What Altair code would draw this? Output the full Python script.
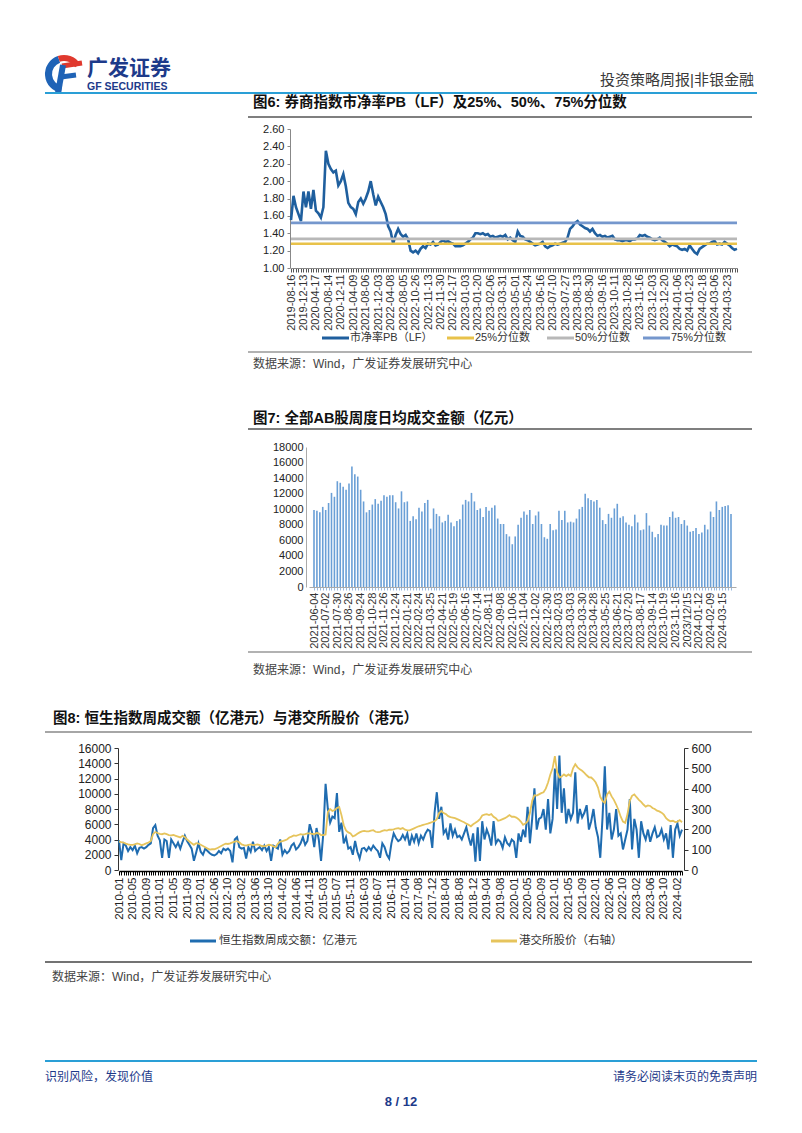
import altair as alt
import pandas as pd

W, H = 786, 1117
LAT = "Liberation Sans"
MIX = "Liberation Sans, Noto Sans CJK SC"

# ---------------- data ----------------
pb_labels = ["2019-08-16", "2019-12-13", "2020-04-17", "2020-08-14", "2020-12-11", "2021-04-09",
             "2021-08-06", "2021-12-03", "2022-04-08", "2022-08-05", "2022-10-26", "2022-11-13",
             "2022-11-30", "2022-12-17", "2023-01-03", "2023-01-20", "2023-02-06", "2023-03-31",
             "2023-05-01", "2023-05-24", "2023-06-16", "2023-07-10", "2023-07-27", "2023-08-13",
             "2023-08-30", "2023-09-16", "2023-10-11", "2023-10-28", "2023-11-16", "2023-12-03",
             "2023-12-20", "2024-01-06", "2024-01-23", "2024-02-18", "2024-03-06", "2024-03-23"]
pb_values = [
    1.55, 1.83, 1.70, 1.62, 1.54, 1.88, 1.70, 1.88, 1.68, 1.90,
    1.66, 1.63, 1.58, 1.70, 2.35, 2.20, 2.14, 2.10, 2.12, 1.95,
    2.00, 2.08, 1.94, 1.75, 1.70, 1.68, 1.62, 1.76, 1.80, 1.74,
    1.80, 1.88, 2.00, 1.85, 1.72, 1.82, 1.76, 1.70, 1.62, 1.48,
    1.42, 1.28, 1.38, 1.45, 1.39, 1.36, 1.38, 1.33, 1.20, 1.18,
    1.20, 1.17, 1.22, 1.25, 1.23, 1.28, 1.27, 1.30, 1.26, 1.27,
    1.30, 1.32, 1.30, 1.31, 1.29, 1.28, 1.25, 1.25, 1.25, 1.26,
    1.28, 1.30, 1.33, 1.35, 1.40, 1.40, 1.39, 1.40, 1.38, 1.39,
    1.36, 1.37, 1.35, 1.36, 1.37, 1.36, 1.38, 1.33, 1.35, 1.32,
    1.30, 1.42, 1.37, 1.36, 1.33, 1.32, 1.30, 1.28, 1.26, 1.27,
    1.28, 1.30, 1.25, 1.23, 1.25, 1.26, 1.28, 1.27, 1.28, 1.29,
    1.30, 1.35, 1.45, 1.48, 1.52, 1.54, 1.50, 1.48, 1.46, 1.45,
    1.42, 1.45, 1.40, 1.37, 1.38, 1.36, 1.37, 1.35, 1.36, 1.37,
    1.33, 1.32, 1.32, 1.31, 1.32, 1.32, 1.31, 1.33, 1.33, 1.34,
    1.38, 1.37, 1.38, 1.36, 1.35, 1.33, 1.32, 1.33, 1.35, 1.32,
    1.30, 1.28, 1.25, 1.27, 1.26, 1.25, 1.22, 1.21, 1.22, 1.20,
    1.26, 1.22, 1.18, 1.16, 1.22, 1.24, 1.26, 1.28, 1.28, 1.30,
    1.31, 1.27, 1.28, 1.27, 1.30, 1.28, 1.26, 1.23, 1.21, 1.22]
pb_p25, pb_p50, pb_p75 = 1.28, 1.335, 1.52

ab_labels = ["2021-06-04", "2021-07-02", "2021-07-30", "2021-08-26", "2021-09-24", "2021-10-28",
             "2021-11-26", "2021-12-24", "2022-01-21", "2022-02-24", "2021-03-25", "2022-04-21",
             "2022-05-19", "2022-06-16", "2022-07-14", "2022-08-11", "2022-09-08", "2022-10-06",
             "2022-11-04", "2022-12-02", "2022-12-30", "2023-02-03", "2023-03-03", "2023-03-30",
             "2023-04-28", "2023-05-25", "2023-06-21", "2023-07-20", "2023-08-17", "2023-09-14",
             "2023-10-19", "2023-11-16", "2023/12/15", "2024-01-12", "2024-02-09", "2024-03-15"]
ab_values = [
    9900, 9800, 9600, 10300, 9900, 10800, 12100, 11600, 13600, 13400,
    12900, 12500, 13300, 15500, 14500, 14200, 12500, 11000, 9600, 9900,
    10600, 11300, 10700, 11100, 11800, 11600, 11800, 11800, 10900, 10100,
    12300, 10900, 11000, 8500, 9100, 8700, 10200, 9700, 10800, 11200,
    7500, 10100, 9400, 9100, 8300, 8500, 9300, 8300, 7800, 8500,
    8700, 10600, 11200, 11000, 12100, 11000, 9900, 10100, 9000, 10300,
    9800, 10200, 10500, 8800, 8100, 8100, 6800, 6500, 5500, 6500,
    8000, 8900, 9700, 9300, 9900, 8100, 9200, 9700, 8100, 6400,
    6200, 8100, 7300, 7400, 9800, 8600, 9800, 8300, 8400, 8300,
    8800, 10000, 10300, 12000, 11400, 11200, 11000, 11200, 10200, 8600,
    8100, 9400, 8900, 10100, 10700, 8900, 9100, 8300, 8000, 7800,
    9300, 8300, 7300, 7400, 9500, 7900, 7100, 6400, 6800, 8000,
    7900, 7900, 9000, 9700, 8900, 9000, 8100, 8600, 7900, 7100,
    7200, 7600, 6800, 7000, 8000, 7400, 9700, 9000, 11000, 9900,
    10300, 10400, 10500, 9400]

hs_labels = ["2010-01", "2010-05", "2010-09", "2011-01", "2011-05", "2011-09", "2012-01", "2012-06",
             "2012-10", "2013-02", "2013-06", "2013-10", "2014-02", "2014-06", "2014-11", "2015-03",
             "2015-07", "2015-11", "2016-03", "2016-07", "2016-11", "2017-04", "2017-08", "2017-12",
             "2018-04", "2018-08", "2018-12", "2019-04", "2019-08", "2020-01", "2020-05", "2020-09",
             "2021-01", "2021-05", "2021-09", "2022-01", "2022-06", "2022-10", "2023-02", "2023-06",
             "2023-10", "2024-02"]
hs_turnover = [
    3900, 1300, 3500, 3200, 2500, 3000, 2600, 3200, 2200, 2900, 3000, 2800,
    3000, 3300, 3500, 5500, 5900, 4500, 3900, 1600, 4000, 3800, 1600, 4000,
    3500, 3000, 3600, 2800, 3700, 4500, 3800, 3300, 2800, 1200, 2300, 3500,
    2400, 2000, 2800, 2500, 2200, 2000, 1900, 2100, 2500, 2200, 2800, 2600,
    2800, 2500, 1000, 4000, 4300, 3000, 2800, 2900, 1500, 3000, 2400, 3700,
    2500, 2800, 3000, 2600, 3200, 2500, 3000, 1200, 3200, 3000, 2800, 4000,
    2000, 2600, 2200, 2500, 3200, 3500, 2700, 3000, 3500, 4300, 3300, 3800,
    6000, 5000, 3000, 5500, 4000, 1200, 4800, 11300, 8000, 6200, 7000, 6800,
    10100, 5000, 6200, 3500, 4300, 2800, 3000, 2000, 3800, 2400, 1500, 2800,
    2900, 2500, 3000, 2600, 3200, 2800, 2500, 1600, 3500, 3000, 2000, 1500,
    3500, 4800, 4200, 3800, 4000, 4600, 4000, 4800, 3200, 4500, 3700, 4800,
    3500, 4500, 4000, 4800, 5300, 5100, 2900, 7500, 10200, 6700, 8300, 4800,
    5300, 4000, 6100, 4500, 5300, 4300, 4500, 4000, 4800, 5600, 4300, 3200,
    4800, 1100, 5600, 1200, 6400, 4000, 5300, 4500, 3200, 6400, 3500, 4000,
    3700, 2900, 4300, 3500, 3200, 4000, 3700, 1600, 4800, 3700, 5300, 4300,
    8300, 3500, 6700, 10700, 5300, 6700, 6900, 8000, 5300, 9300, 4800, 6700,
    13300, 8000, 15000, 7500, 10700, 6100, 8000, 6700, 7500, 12800, 6100, 8000,
    6900, 7500, 8500, 5300, 6400, 8000, 5600, 4300, 1600, 6900, 13600, 5300,
    7500, 4000, 5300, 8000, 4500, 4800, 2700, 4000, 5300, 9300, 2700, 6700,
    5300, 1600, 6400, 4800, 4000, 5300, 3700, 4800, 5600, 4300, 4500, 5300,
    4000, 4800, 2700, 5900, 1600, 5300, 6100, 4500, 5300]
hkex_price = [
    140, 137, 135, 130, 126, 124, 124, 126, 131, 128, 122, 126,
    131, 135, 142, 176, 187, 182, 178, 176, 180, 176, 172, 170,
    172, 168, 164, 160, 168, 162, 150, 140, 132, 124, 132, 130,
    124, 118, 112, 106, 100, 102, 102, 106, 112, 118, 124, 130,
    128, 131, 136, 140, 142, 136, 126, 122, 120, 124, 126, 122,
    124, 126, 122, 118, 116, 120, 124, 122, 116, 112, 130, 140,
    142, 146, 150, 160, 164, 170, 168, 172, 176, 174, 176, 180,
    180, 178, 176, 182, 180, 172, 172, 175, 285, 300, 290, 295,
    305, 310, 270, 220, 195, 185, 180, 165, 170, 178, 185, 190,
    192, 190, 190, 194, 196, 188, 186, 188, 192, 196, 194, 198,
    198, 200, 204, 206, 202, 206, 198, 195, 195, 200, 205, 210,
    215, 218, 222, 225, 228, 232, 236, 240, 250, 280, 290, 280,
    275, 265, 260, 258, 255, 250, 245, 240, 235, 228, 222, 215,
    225, 232, 240, 250, 268, 272, 275, 270, 275, 262, 255, 242,
    245, 250, 255, 262, 270, 262, 262, 258, 250, 238, 222, 228,
    240, 280, 340, 368, 366, 372, 378, 382, 400, 430, 470, 500,
    560, 480, 455, 460, 470, 462, 470, 462, 500, 520, 505, 495,
    488, 478, 466, 456, 455, 445, 430, 405, 360, 340, 330, 372,
    385, 362, 345, 322, 295, 262, 238, 232, 275, 340, 365, 372,
    358, 345, 335, 322, 312, 318, 315, 305, 300, 292, 288, 282,
    272, 255, 245, 240, 242, 236, 238, 245, 235]

# ---------------- helpers ----------------
def px(x):
    return x - 8


def py(y):
    return y - 8


one = pd.DataFrame({"k": [0]})


def txt(s, x, y, size=12, color="#000000", weight="normal", align="left", font=MIX):
    return alt.Chart(one).mark_text(text=s, align=align, baseline="middle", fontSize=size,
                                    color=color, fontWeight=weight, font=font).encode(
        x=alt.value(px(x)), y=alt.value(py(y)))


def seg(x1, y1, x2, y2, color, width):
    return alt.Chart(one).mark_rule(color=color, strokeWidth=width, strokeCap="butt").encode(
        x=alt.value(px(x1)), x2=alt.value(px(x2)), y=alt.value(py(y1)), y2=alt.value(py(y2)))


def hrule(x1, x2, y, color, width):
    return seg(x1, y, x2, y, color, width)


def label_expr(labels, step):
    arr = "[" + ",".join("'%s'" % s for s in labels) + "]"
    return "datum.value %% %d == 0 ? %s[datum.value / %d] : ''" % (step, arr, step)


layers = []

# ---------------- header ----------------
NAVY = "#1d3a8a"
CYAN = "#2a9fd6"
layers.append(alt.Chart(one).mark_arc(color="#1f63b6", theta=3.3, theta2=5.95, radius=19, radius2=12)
              .encode(x=alt.value(px(64)), y=alt.value(py(74))))
layers.append(alt.Chart(one).mark_arc(color="#e0392e", theta=5.95, theta2=7.3, radius=19, radius2=13)
              .encode(x=alt.value(px(64)), y=alt.value(py(74))))
layers.append(seg(62, 66, 82, 63, "#e0392e", 5))
layers.append(seg(63, 65, 58, 93, "#1f63b6", 6))
layers.append(seg(61, 77, 76, 75, "#1f63b6", 5))
layers.append(txt("广发证券", 87, 69, 21, NAVY, "bold"))
layers.append(txt("GF SECURITIES", 87, 87, 10.5, NAVY, "bold", font=LAT))
layers.append(txt("投资策略周报|非银金融", 754, 80, 15, "#3a3a3a", align="right"))
layers.append(hrule(45, 757, 93, CYAN, 2.2))

# ---------------- chart 6 ----------------
layers.append(txt("图6:  券商指数市净率PB（LF）及25%、50%、75%分位数", 253, 103, 14.5, "#111111", "bold"))
layers.append(hrule(248, 752, 117, "#555555", 1.5))

n6 = len(pb_values)
df6 = pd.DataFrame({"i": list(range(n6)), "v": pb_values})
x6 = alt.Scale(domain=[0, n6 - 1], range=[px(291), px(737)], nice=False, zero=False)
y6 = alt.Scale(domain=[1.0, 2.6], range=[py(268), py(129)], nice=False, zero=False)
layers.append(alt.Chart(df6).mark_line(color="#1f5f9e", strokeWidth=2.6).encode(
    x=alt.X("i:Q", scale=x6, title=None, axis=alt.Axis(
        orient="bottom", offset=py(268) - H, values=list(range(n6)),
        labelExpr=label_expr(pb_labels, 5), labelAngle=-90, labelOverlap=False, labelFlush=False,
        labelFont=LAT, labelFontSize=11, labelColor="#333333", labelPadding=2,
        tickSize=4, tickColor="#555555", domainColor="#888888", grid=False)),
    y=alt.Y("v:Q", scale=y6, title=None, axis=alt.Axis(
        orient="left", offset=-px(290), values=[1.0, 1.2, 1.4, 1.6, 1.8, 2.0, 2.2, 2.4, 2.6],
        format=".2f", labelFont=LAT, labelFontSize=11, labelColor="#222222", labelPadding=3,
        tickSize=3, tickColor="#888888", domainColor="#888888", grid=False))))


def pct_rule(val, color):
    return alt.Chart(one).mark_rule(color=color, strokeWidth=2.6).encode(
        x=alt.XDatum(0, scale=x6, axis=None),
        x2=alt.X2Datum(n6 - 1),
        y=alt.YDatum(val, scale=y6, axis=None))


C25, C50, C75 = "#e8c24a", "#b8b8b8", "#7597cd"
layers.append(pct_rule(pb_p25, C25))
layers.append(pct_rule(pb_p50, C50))
layers.append(pct_rule(pb_p75, C75))

for lx, col, lab in [(322, "#1f5f9e", "市净率PB（LF）"), (447, C25, "25%分位数"),
                     (547, C50, "50%分位数"), (643, C75, "75%分位数")]:
    layers.append(hrule(lx, lx + 27, 338, col, 3))
    layers.append(txt(lab, lx + 28, 338, 11, "#333333"))
layers.append(hrule(248, 752, 352, "#999999", 1.5))
layers.append(txt("数据来源：Wind，广发证券发展研究中心", 253, 364, 12, "#444444"))

# ---------------- chart 7 ----------------
layers.append(txt("图7:  全部AB股周度日均成交金额（亿元）", 253, 419, 14.5, "#111111", "bold"))
layers.append(hrule(248, 752, 429, "#555555", 1.5))

n7 = len(ab_values)
df7 = pd.DataFrame({"i": list(range(n7)), "v": ab_values})
layers.append(alt.Chart(df7).mark_bar(color="#6a9fd6", size=1.6).encode(
    x=alt.X("i:Q", scale=alt.Scale(domain=[0, n7 - 1], range=[px(309), px(736)], nice=False, zero=False),
            title=None, axis=alt.Axis(
                orient="bottom", offset=py(587) - H, values=list(range(n7)),
                labelExpr=label_expr(ab_labels, 4), labelAngle=-90, labelOverlap=False, labelFlush=False,
                labelFont=LAT, labelFontSize=11, labelColor="#333333", labelPadding=2,
                tickSize=3, tickColor="#9bbbe0", domainColor="#aaaaaa", grid=False)),
    y=alt.Y("v:Q", scale=alt.Scale(domain=[0, 18000], range=[py(587), py(447)], nice=False),
            title=None, axis=alt.Axis(
                orient="left", offset=-px(306), values=list(range(0, 18001, 2000)), format="d",
                labelFont=LAT, labelFontSize=11, labelColor="#222222", labelPadding=3,
                tickSize=0, domainColor="#aaaaaa", grid=False))))
layers.append(hrule(248, 752, 652, "#999999", 1.5))
layers.append(txt("数据来源：Wind，广发证券发展研究中心", 253, 670, 12, "#444444"))

# ---------------- chart 8 ----------------
layers.append(txt("图8:  恒生指数周成交额（亿港元）与港交所股价（港元）", 53, 719, 14.5, "#111111", "bold"))
layers.append(hrule(45, 752, 732, "#888888", 1.5))

n8 = len(hs_turnover)
df8 = pd.DataFrame({"i": list(range(n8)), "turn": hs_turnover, "price": hkex_price})
x8 = alt.Scale(domain=[0, n8 - 1], range=[px(119), px(682)], nice=False, zero=False)
layers.append(alt.Chart(df8).mark_line(color="#1f6cb0", strokeWidth=2).encode(
    x=alt.X("i:Q", scale=x8, title=None, axis=alt.Axis(
        orient="bottom", offset=py(871) - H, values=list(range(n8)),
        labelExpr=label_expr(hs_labels, 6), labelAngle=-90, labelOverlap=False, labelFlush=False,
        labelFont=LAT, labelFontSize=11.5, labelColor="#222222", labelPadding=2,
        tickSize=4, tickColor="#000000", domainColor="#000000", domainWidth=1.5, grid=False)),
    y=alt.Y("turn:Q", scale=alt.Scale(domain=[0, 16000], range=[py(870), py(748)], nice=False),
            title=None, axis=alt.Axis(
                orient="left", offset=-px(118), values=list(range(0, 16001, 2000)), format="d",
                labelFont=LAT, labelFontSize=12, labelColor="#222222", labelPadding=3,
                tickSize=4, tickColor="#333333", domainColor="#333333", grid=False))))
layers.append(alt.Chart(df8).mark_line(color="#e6c45c", strokeWidth=1.8).encode(
    x=alt.X("i:Q", scale=x8, axis=None),
    y=alt.Y("price:Q", scale=alt.Scale(domain=[0, 600], range=[py(870), py(748)], nice=False),
            title=None, axis=alt.Axis(
                orient="right", offset=px(684) - W, values=list(range(0, 601, 100)), format="d",
                labelFont=LAT, labelFontSize=12, labelColor="#222222", labelPadding=3,
                tickSize=4, tickColor="#333333", domainColor="#333333", grid=False))))

layers.append(hrule(190, 216, 941, "#1f6cb0", 3))
layers.append(txt("恒生指数周成交额：亿港元", 219, 941, 11.5, "#333333"))
layers.append(hrule(491, 517, 941, "#e6c45c", 3))
layers.append(txt("港交所股价（右轴）", 519, 941, 11.5, "#333333"))
layers.append(hrule(45, 752, 962, "#444444", 1.5))
layers.append(txt("数据来源：Wind，广发证券发展研究中心", 52, 977, 12, "#444444"))

# ---------------- footer ----------------
layers.append(hrule(45, 757, 1061, CYAN, 2.2))
layers.append(txt("识别风险，发现价值", 45, 1077, 12, NAVY))
layers.append(txt("请务必阅读末页的免责声明", 757, 1077, 12, NAVY, align="right"))
layers.append(txt("8 / 12", 401, 1102, 13, NAVY, "bold", align="center", font=LAT))

chart = alt.layer(*layers).resolve_scale(x="independent", y="independent").properties(
    width=W, height=H, autosize=alt.AutoSizeParams(type="none"), padding=0,
    background="white").configure_view(stroke=None)

chart.save("out.html", embed_options={"renderer": "svg", "actions": False})
